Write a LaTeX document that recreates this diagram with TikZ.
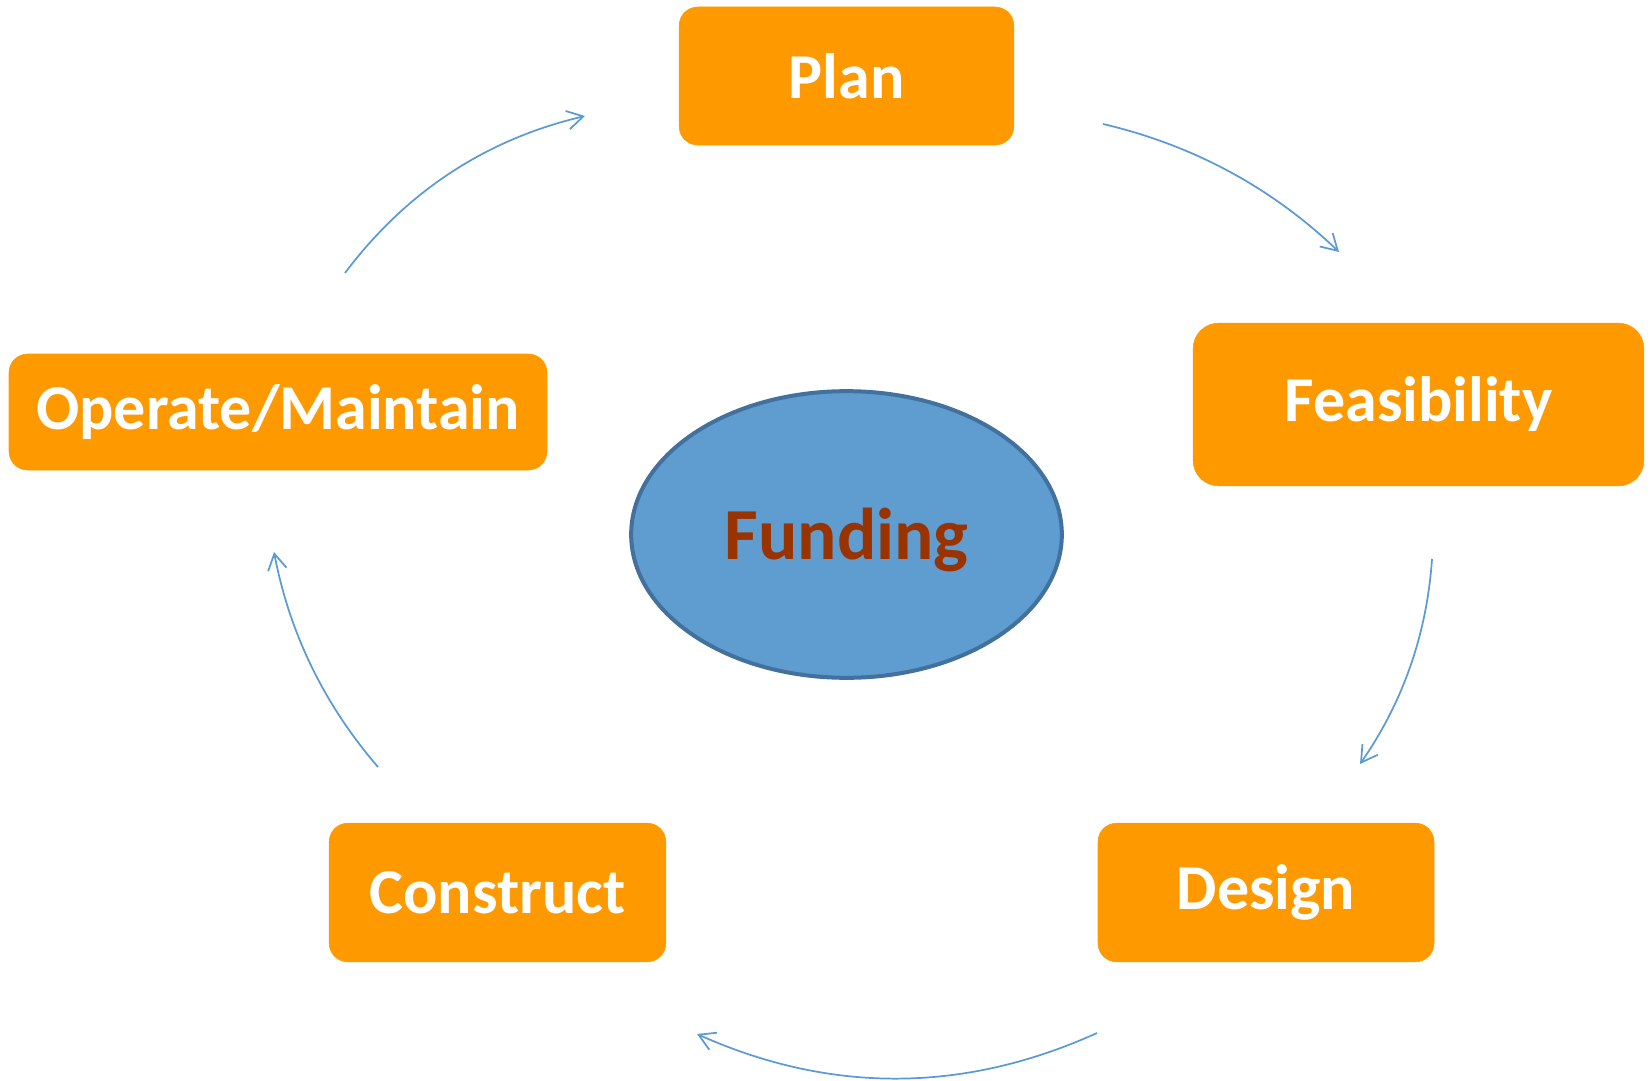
\documentclass[tikz,border=0pt]{standalone}
\usepackage{fontspec}
\setmainfont{Carlito}
\usetikzlibrary{arrows.meta,shapes.geometric}
\definecolor{boxorange}{HTML}{FF9900}
\definecolor{arrowblue}{HTML}{5B9BD5}
\definecolor{ellfill}{HTML}{5F9CD0}
\definecolor{ellborder}{HTML}{41719C}
\definecolor{fundtext}{HTML}{993300}
\tikzset{
  stagebox/.style={rectangle, rounded corners=14pt, fill=boxorange, draw=boxorange,
    text=white, font=\fontsize{48}{57}\selectfont\bfseries, inner sep=0pt},
  cyclearrow/.style={draw=arrowblue, line width=1.3pt,
    -{Straight Barb[length=12pt,width=14pt,line width=1.3pt]}},
}
\begin{document}
\begin{tikzpicture}[x=0.75pt,y=-0.75pt]
\useasboundingbox (0,0) rectangle (1650,1081);
\node[stagebox, minimum width=251pt, minimum height=103.5pt] (plan) at (846.5,76) {Plan};
\node[stagebox, rounded corners=19pt, minimum width=338pt, minimum height=122pt] (feas) at (1418.5,404.5) {Feasibility};
\node[stagebox, minimum width=252pt, minimum height=104pt] (design) at (1266,892.5) {Design};
\node[stagebox, minimum width=252.5pt, minimum height=104pt] (construct) at (497.5,892.5) {Construct};
\node[stagebox, minimum width=403.5pt, minimum height=87pt] (operate) at (278,412) {Operate/Maintain};
\node[ellipse, fill=ellfill, draw=ellborder, line width=3pt, minimum width=323pt, minimum height=215pt,
  inner sep=0pt] (funding) at (846.5,534.5) {};
\node[text=fundtext, font=\fontsize{55}{64}\selectfont\bfseries, inner sep=0pt] (fundlabel) at (846.5,540) {Funding};
% arrow end points
\coordinate (a1s) at (1103,124);  \coordinate (a1e) at (1339,252);
\coordinate (a2s) at (1432,559);  \coordinate (a2e) at (1360,764);
\coordinate (a3s) at (1097,1033); \coordinate (a3e) at (697,1034);
\coordinate (a4s) at (378,767);   \coordinate (a4e) at (274,552);
\coordinate (a5s) at (345,273);   \coordinate (a5e) at (585,116);
\draw[cyclearrow] (a1s) .. controls (1193.4,145.2) and (1272,187.8) .. (a1e);
\draw[cyclearrow] (a2s) .. controls (1426.9,633.9) and (1402.9,702.3) .. (a2e);
\draw[cyclearrow] (a3s) .. controls (963.7,1093.3) and (830.3,1093.7) .. (a3e);
\draw[cyclearrow] (a4s) .. controls (324.1,704.6) and (289.5,633) .. (a4e);
\draw[cyclearrow] (a5s) .. controls (406,191.7) and (486,139.3) .. (a5e);
\end{tikzpicture}
\end{document}
